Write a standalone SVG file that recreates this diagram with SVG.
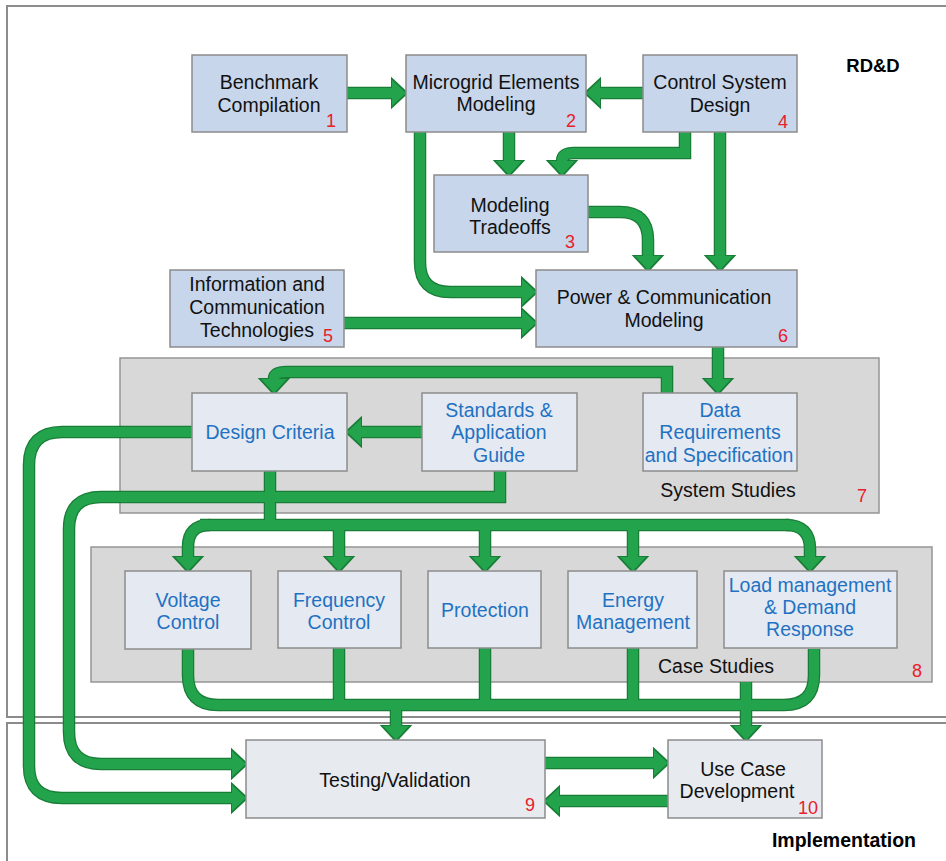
<svg xmlns="http://www.w3.org/2000/svg" xmlns:xlink="http://www.w3.org/1999/xlink" width="946" height="861" viewBox="0 0 946 861">
  <style>
    .frame { fill: #ffffff; stroke: #8c8c8c; stroke-width: 2; }
    .panel { fill: #d8d8d8; stroke: #959595; stroke-width: 1.5; }
    .box { fill: #c7d6ea; stroke: #8c8c8c; stroke-width: 1.5; }
    .sub { fill: #e4e9f2; stroke: #8c8c8c; stroke-width: 1.5; }
    .impl { fill: #e7eaef; stroke: #8c8c8c; stroke-width: 1.5; }
    text { font-family: "Liberation Sans", Arial, sans-serif; font-size: 19.5px; text-anchor: middle; }
    .dark { fill: #111111; }
    .blue { fill: #1f72c2; }
    .num { fill: #e8202a; font-size: 18px; }
    .title { fill: #000000; font-weight: bold; font-size: 18.5px; }
    .title.big { font-size: 19.5px; }
    .outline use { fill: none; stroke: #187d37; stroke-width: 12.5; }
    .outline use.arrow { marker-end: url(#headOut); }
    .fillc use { fill: none; stroke: #23a44c; stroke-width: 10; }
    .fillc use.arrow { marker-end: url(#headIn); }
  </style>
  <defs>
    <marker id="headOut" markerUnits="userSpaceOnUse" viewBox="-2 -16 19 32" markerWidth="19" markerHeight="32" refX="0" refY="0" orient="auto" overflow="visible">
      <path d="M0,-14 L15,0 L0,14 Z" fill="#187d37" stroke="#187d37" stroke-width="2" stroke-linejoin="miter"/>
    </marker>
    <marker id="headIn" markerUnits="userSpaceOnUse" viewBox="-2 -16 19 32" markerWidth="19" markerHeight="32" refX="0" refY="0" orient="auto" overflow="visible">
      <path d="M0,-13 L14,0 L0,13 Z" fill="#23a44c"/>
    </marker>
    <!-- connector routes -->
    <path id="c1" d="M347,93 H392"/>
    <path id="c2" d="M643,93 H600"/>
    <path id="c3" d="M509,132 V161"/>
    <path id="c4" d="M685,132 V153 H574 Q562,153 562,161"/>
    <path id="c5" d="M720,132 V256"/>
    <path id="c6" d="M588,212 H620 Q648,212 648,240 V256"/>
    <path id="c7" d="M420,132 V262 Q420,292 450,292 H522"/>
    <path id="c8" d="M344,323 H522"/>
    <path id="c9" d="M718,347 V379"/>
    <path id="c10" d="M667,393 V372 H286 Q274,372 274,379"/>
    <path id="c11" d="M422,432 H361"/>
    <path id="c12" d="M192,432 H62 Q29,432 29,465 V766 Q29,798 62,798 H232"/>
    <path id="c13" d="M500,471 V497 H101 Q69,497 69,529 V732 Q69,764 101,764 H232"/>
    <path id="c14" d="M270,471 V525"/>
    <path id="c15a" d="M210,525 Q188,525 188,547 V557"/>
    <path id="c15b" d="M200,525 H790"/>
    <path id="c15c" d="M786,525 Q810,525 810,549 V557"/>
    <path id="c16" d="M339,525 V557"/>
    <path id="c17" d="M485,525 V557"/>
    <path id="c18" d="M633,525 V557"/>
    <path id="c19" d="M188,649 V675 Q188,705 218,705 H784 Q814,705 814,675 V649"/>
    <path id="c20" d="M339,648 V705"/>
    <path id="c21" d="M485,648 V705"/>
    <path id="c22" d="M633,648 V705"/>
    <path id="c23" d="M396,705 V726"/>
    <path id="c24" d="M746,682 V726"/>
    <path id="c25" d="M545,763 H654"/>
    <path id="c26" d="M668,801 H559"/>
  </defs>

  <rect width="946" height="861" fill="#ffffff"/>

  <!-- stage frames -->
  <g id="rdd-frame">
    <rect class="frame" x="7" y="6" width="960" height="711"/>
    <text class="title" x="873" y="72">RD&amp;D</text>
  </g>
  <g id="implementation-frame">
    <rect class="frame" x="7" y="723" width="960" height="160"/>
    <text class="title big" x="844" y="847">Implementation</text>
  </g>

  <!-- study panels -->
  <g id="system-studies">
    <rect class="panel" x="120" y="358" width="759" height="155"/>
    <text class="dark" x="728" y="497">System Studies</text>
    <text class="num" x="862" y="502">7</text>
  </g>
  <g id="case-studies">
    <rect class="panel" x="91" y="547" width="841" height="135"/>
    <text class="dark" x="716" y="673">Case Studies</text>
    <text class="num" x="917" y="677">8</text>
  </g>

  <!-- connectors: dark outline layer under bright fill layer -->
  <g id="connectors">
    <g class="outline">
      <use href="#c1" class="arrow"/><use href="#c2" class="arrow"/><use href="#c3" class="arrow"/>
      <use href="#c4" class="arrow"/><use href="#c5" class="arrow"/><use href="#c6" class="arrow"/>
      <use href="#c7" class="arrow"/><use href="#c8" class="arrow"/><use href="#c9" class="arrow"/>
      <use href="#c10" class="arrow"/><use href="#c11" class="arrow"/><use href="#c12" class="arrow"/>
      <use href="#c13" class="arrow"/><use href="#c14"/>
      <use href="#c15a" class="arrow"/><use href="#c15b"/><use href="#c15c" class="arrow"/>
      <use href="#c16" class="arrow"/><use href="#c17" class="arrow"/><use href="#c18" class="arrow"/>
      <use href="#c19"/><use href="#c20"/><use href="#c21"/><use href="#c22"/>
      <use href="#c23" class="arrow"/><use href="#c24" class="arrow"/>
      <use href="#c25" class="arrow"/><use href="#c26" class="arrow"/>
    </g>
    <g class="fillc">
      <use href="#c1" class="arrow"/><use href="#c2" class="arrow"/><use href="#c3" class="arrow"/>
      <use href="#c4" class="arrow"/><use href="#c5" class="arrow"/><use href="#c6" class="arrow"/>
      <use href="#c7" class="arrow"/><use href="#c8" class="arrow"/><use href="#c9" class="arrow"/>
      <use href="#c10" class="arrow"/><use href="#c11" class="arrow"/><use href="#c12" class="arrow"/>
      <use href="#c13" class="arrow"/><use href="#c14"/>
      <use href="#c15a" class="arrow"/><use href="#c15b"/><use href="#c15c" class="arrow"/>
      <use href="#c16" class="arrow"/><use href="#c17" class="arrow"/><use href="#c18" class="arrow"/>
      <use href="#c19"/><use href="#c20"/><use href="#c21"/><use href="#c22"/>
      <use href="#c23" class="arrow"/><use href="#c24" class="arrow"/>
      <use href="#c25" class="arrow"/><use href="#c26" class="arrow"/>
    </g>
  </g>

  <!-- RD&D nodes -->
  <g id="n1">
    <rect class="box" x="192" y="55" width="155" height="77"/>
    <text class="dark" x="269" y="89">Benchmark</text>
    <text class="dark" x="269" y="112">Compilation</text>
    <text class="num" x="331" y="127">1</text>
  </g>
  <g id="n2">
    <rect class="box" x="406" y="55" width="180" height="77"/>
    <text class="dark" x="496" y="89">Microgrid Elements</text>
    <text class="dark" x="496" y="111">Modeling</text>
    <text class="num" x="571" y="127">2</text>
  </g>
  <g id="n4">
    <rect class="box" x="643" y="55" width="154" height="77"/>
    <text class="dark" x="720" y="89">Control System</text>
    <text class="dark" x="720" y="112">Design</text>
    <text class="num" x="783" y="128">4</text>
  </g>
  <g id="n3">
    <rect class="box" x="434" y="175" width="154" height="77"/>
    <text class="dark" x="510" y="212">Modeling</text>
    <text class="dark" x="510" y="234">Tradeoffs</text>
    <text class="num" x="570" y="248">3</text>
  </g>
  <g id="n5">
    <rect class="box" x="170" y="270" width="174" height="77"/>
    <text class="dark" x="257" y="291">Information and</text>
    <text class="dark" x="257" y="314">Communication</text>
    <text class="dark" x="257" y="337">Technologies</text>
    <text class="num" x="328" y="342">5</text>
  </g>
  <g id="n6">
    <rect class="box" x="536" y="270" width="261" height="77"/>
    <text class="dark" x="664" y="304">Power &amp; Communication</text>
    <text class="dark" x="664" y="327">Modeling</text>
    <text class="num" x="783" y="342">6</text>
  </g>

  <!-- system study nodes -->
  <g id="design-criteria">
    <rect class="sub" x="192" y="393" width="155" height="78"/>
    <text class="blue" x="270" y="439">Design Criteria</text>
  </g>
  <g id="standards">
    <rect class="sub" x="422" y="393" width="155" height="78"/>
    <text class="blue" x="499" y="417">Standards &amp;</text>
    <text class="blue" x="499" y="439">Application</text>
    <text class="blue" x="499" y="462">Guide</text>
  </g>
  <g id="data-requirements">
    <rect class="sub" x="643" y="393" width="154" height="78"/>
    <text class="blue" x="720" y="417">Data</text>
    <text class="blue" x="720" y="439">Requirements</text>
    <text class="blue" x="719" y="462">and Specification</text>
  </g>

  <!-- case study nodes -->
  <g id="voltage-control">
    <rect class="sub" x="125" y="571" width="126" height="78"/>
    <text class="blue" x="188" y="607">Voltage</text>
    <text class="blue" x="188" y="629">Control</text>
  </g>
  <g id="frequency-control">
    <rect class="sub" x="278" y="571" width="123" height="77"/>
    <text class="blue" x="339" y="607">Frequency</text>
    <text class="blue" x="339" y="629">Control</text>
  </g>
  <g id="protection">
    <rect class="sub" x="428" y="571" width="113" height="77"/>
    <text class="blue" x="485" y="617">Protection</text>
  </g>
  <g id="energy-management">
    <rect class="sub" x="568" y="571" width="129" height="77"/>
    <text class="blue" x="633" y="607">Energy</text>
    <text class="blue" x="633" y="629">Management</text>
  </g>
  <g id="load-management">
    <rect class="sub" x="724" y="571" width="173" height="77"/>
    <text class="blue" x="810" y="592">Load management</text>
    <text class="blue" x="810" y="614">&amp; Demand</text>
    <text class="blue" x="810" y="636">Response</text>
  </g>

  <!-- implementation nodes -->
  <g id="n9">
    <rect class="impl" x="246" y="740" width="299" height="78"/>
    <text class="dark" x="395" y="787">Testing/Validation</text>
    <text class="num" x="530" y="811">9</text>
  </g>
  <g id="n10">
    <rect class="impl" x="668" y="740" width="154" height="78"/>
    <text class="dark" x="743" y="776">Use Case</text>
    <text class="dark" x="737" y="798">Development</text>
    <text class="num" x="808" y="814">10</text>
  </g>
</svg>
